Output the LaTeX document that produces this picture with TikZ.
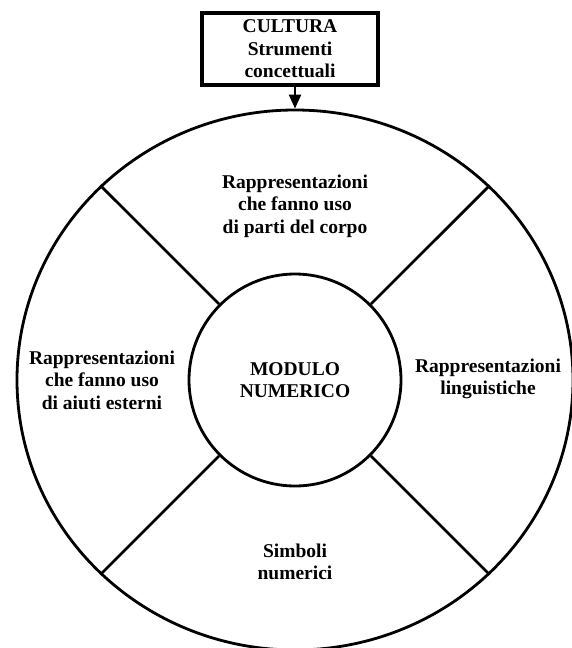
\documentclass[tikz,border=0pt]{standalone}
\usepackage{fontspec}
\setmainfont{Liberation Serif}
\usetikzlibrary{shapes.geometric,arrows.meta}

\tikzset{
  etichetta/.style={align=center, font=\bfseries\fontsize{19.5}{22.5}\selectfont},
  bordo/.style={line width=2.8pt},
}

\begin{document}
\begin{tikzpicture}[x=1pt, y=-1pt]
  \useasboundingbox (0,0) rectangle (572,648);

  % anello esterno e modulo centrale
  \node[draw, bordo, ellipse, minimum width=556pt, minimum height=540pt, inner sep=0pt] (anello) at (295,380) {};
  \node[draw, bordo, circle, minimum size=212pt, inner sep=0pt, etichetta] (modulo) at (295,380) {MODULO\\NUMERICO};

  % divisori
  \foreach \a in {45,135,225,315}
    \draw[bordo] (modulo.\a) -- (anello.\a);

  % settori
  \node[etichetta] (corpo) at (295,206) {Rappresentazioni\\che fanno uso\\di parti del corpo};
  \node[etichetta] (esterni) at (102,380) {Rappresentazioni\\che fanno uso\\di aiuti esterni};
  \node[etichetta] (linguistiche) at (488,379) {Rappresentazioni\\linguistiche};
  \node[etichetta] (simboli) at (295,562) {Simboli\\numerici};

  % cultura
  \node[draw, line width=3.4pt, etichetta, minimum width=176pt, minimum height=72pt, inner sep=0pt] (cultura) at (290,49) {CULTURA\\Strumenti\\concettuali};
  \draw[line width=2.4pt, -{Triangle[length=14pt,width=12pt]}] (cultura.south -| anello.north) -- (anello.north);

\end{tikzpicture}
\end{document}
